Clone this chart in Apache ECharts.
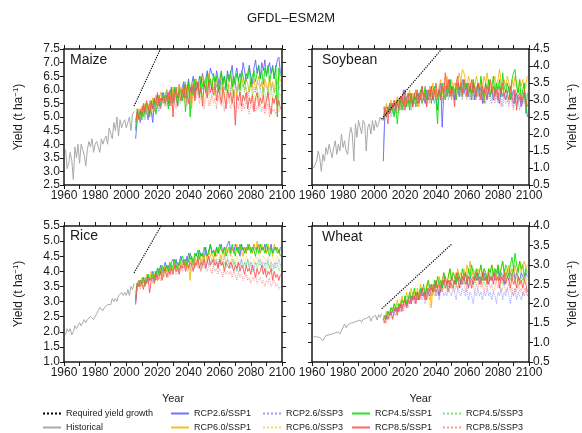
<!DOCTYPE html>
<html lang="en">
<head>
    <meta charset="UTF-8">
    <title>GFDL-ESM2M yield</title>
    <script src="https://cdn.jsdelivr.net/npm/echarts@6/dist/echarts.min.js"></script>
    <style type="text/css">
        html, body { margin: 0; padding: 0; background: #fff; }
        #main { width: 582px; height: 433px; }
    </style>
</head>
<body>
<div id="main"></div>
<script type="text/javascript">
    var crops = ['Maize', 'Soybean', 'Rice', 'Wheat'];
    var y_min = [2.5, 0.5, 1.0, 0.5];
    var y_max = [7.5, 4.5, 5.5, 4.0];
    var hist_start = 1961;
    var proj_start = 2006;
    var req_years = [2005, 2050];

    // required yield growth, value at req_years
    var maize_req = [5.4, 10.98];
    var soy_req = [2.44, 4.83];
    var rice_req = [3.95, 7.98];
    var wheat_req = [1.87, 3.53];

    // historical 1961-2005
    var maize_hist = [3.8,3.1,3.3,3.7,3.4,2.7,3.9,3.5,4.0,3.3, 4.0,3.8,3.6,3.2,3.8,4.1,3.9,4.2,3.7,4.0, 4.1,3.9,3.7,4.2,4.0,4.2,4.3,4.0,4.6,4.4, 4.2,4.8,4.5,5.0,4.3,4.9,4.6,4.8,4.9,4.6, 4.8,5.0,4.5,5.1,5.2];
    var soy_hist = [1.0,1.1,1.2,1.5,1.3,0.9,1.4,1.2,1.6,1.4, 1.7,1.5,1.3,1.6,1.8,1.4,1.7,1.5,2.0,1.6, 1.8,1.5,1.4,1.9,2.2,2.0,1.2,2.3,1.9,2.4, 2.2,2.0,2.4,2.3,1.5,2.2,2.3,2.0,2.4,2.1, 2.4,2.2,2.3,2.5,2.4];
    var rice_hist = [1.9,2.1,2.0,2.1,1.9,2.0,2.2,2.1,2.2,2.3, 2.2,2.2,2.4,2.3,2.4,2.4,2.5,2.5,2.4,2.5, 2.6,2.7,2.8,2.8,2.7,2.8,2.8,2.9,2.9,2.9, 3.1,3.0,3.1,3.0,3.2,3.2,3.3,3.2,3.3,3.2, 3.4,3.2,3.5,3.4,3.6];
    var wheat_hist = [1.15,1.12,1.15,1.10,1.13,1.08,1.05,1.10,1.18,1.15, 1.20,1.17,1.22,1.18,1.25,1.20,1.28,1.22,1.30,1.35, 1.48,1.38,1.45,1.40,1.50,1.45,1.52,1.48,1.55,1.50, 1.58,1.52,1.60,1.55,1.62,1.57,1.68,1.55,1.65,1.60, 1.70,1.58,1.72,1.65,1.75];

    // projections 2006-2099
    var maize_26_1 = [4.2,4.9,5.1,4.8,5.2,5.0,5.4,5.3,4.9,5.5, 5.2,4.8,5.6,5.4,5.8,5.5,5.3,5.9,5.6,5.7, 6.0,5.5,5.8,6.1,5.6,6.0,5.8,5.4,6.2,5.9, 6.1,6.3,5.7,6.0,6.4,5.9,6.2,6.5,5.8,6.3, 6.0,6.5,6.2,6.6,6.1,6.4,6.7,6.3,6.8,6.6, 6.5,6.2,6.7,6.4,6.0,6.6,6.3,6.5,6.1,6.7, 6.4,6.6,6.9,6.2,6.5,6.8,6.3,6.6,6.4,7.0, 6.7,6.3,6.6,6.9,6.5,6.2,6.8,7.1,6.6,6.9, 6.4,7.0,6.7,7.1,6.5,6.8,7.0,6.6,6.9,6.4, 6.8,7.1,7.2,6.6];
    var maize_26_3 = [4.6,4.8,5.0,4.9,5.1,5.3,4.9,5.2,5.4,5.1, 5.5,5.0,5.3,5.6,5.4,5.2,5.7,5.5,5.8,5.4, 5.7,5.9,5.5,5.8,6.0,5.6,5.9,5.7,6.1,5.8, 5.6,6.0,6.2,5.8,6.1,5.7,6.0,6.3,5.9,6.1, 6.2,5.8,6.3,6.0,6.4,6.1,5.9,6.5,6.2,6.3, 6.0,6.4,6.1,6.3,5.8,6.2,6.4,6.0,6.3,6.1, 6.2,5.9,6.4,6.1,6.3,6.0,6.2,5.8,6.4,6.1, 6.3,6.0,5.8,6.2,6.4,6.0,6.1,5.9,6.3,6.2, 6.0,6.3,5.9,6.2,6.1,5.8,6.3,6.0,6.2,5.9, 6.1,6.3,6.0,6.2];
    var maize_45_1 = [4.5,5.3,5.0,5.2,4.9,5.4,5.1,5.5,5.3,5.0, 5.6,5.3,5.7,5.1,5.5,5.8,5.4,5.6,5.9,5.5, 5.8,5.3,6.0,5.7,5.5,6.1,5.8,5.4,6.0,5.9, 5.6,6.2,5.2,6.0,6.3,5.0,6.1,5.8,6.4,6.0, 6.2,5.7,6.5,6.1,6.3,5.9,6.6,6.2,6.4,6.0, 6.6,6.3,6.5,5.9,6.4,6.7,6.2,6.5,6.0,6.6, 6.3,6.7,6.1,6.5,6.2,6.6,6.4,6.0,6.7,6.5, 6.2,6.6,6.4,6.8,6.1,6.5,6.7,6.3,6.6,6.9, 6.4,6.7,6.2,6.8,6.5,6.9,6.3,6.6,6.8,6.4, 6.9,5.0,6.8,6.5];
    var maize_45_3 = [4.7,5.0,5.2,4.9,5.3,5.1,5.0,5.4,5.2,5.5, 5.3,5.6,5.2,5.5,5.7,5.4,5.6,5.8,5.5,5.7, 5.9,5.6,5.8,6.0,5.7,5.5,5.9,6.1,5.8,5.6, 6.0,5.8,6.1,5.7,5.9,6.2,5.8,6.0,5.6,6.1, 5.9,6.2,6.0,5.7,6.3,6.0,6.1,5.8,6.2,6.0, 6.1,5.8,6.2,6.0,5.9,6.3,5.7,6.1,5.9,6.2, 5.8,6.1,6.0,5.7,6.2,5.9,6.1,5.8,6.0,6.2, 5.9,6.1,5.7,6.0,6.2,5.8,6.0,5.9,6.1,5.7, 6.0,5.8,6.1,5.9,5.6,6.0,5.8,6.1,5.7,5.9, 6.0,5.2,5.9,5.8];
    var maize_60_1 = [4.9,5.1,5.3,5.0,5.4,5.2,5.5,5.3,5.1,5.6, 5.4,5.7,5.5,5.8,5.3,5.6,5.9,5.7,5.5,5.8, 6.0,5.7,5.9,5.4,6.1,5.8,6.0,5.6,6.2,5.9, 6.1,5.8,6.3,5.7,6.2,6.0,5.3,6.3,6.1,6.4, 6.0,6.3,5.9,6.5,6.2,6.4,6.0,6.6,6.3,6.1, 6.5,6.2,6.4,6.0,6.3,6.5,6.1,6.4,6.2,5.9, 6.3,6.5,6.0,6.4,6.2,5.8,6.3,6.1,6.5,6.2, 6.0,6.4,6.2,5.9,6.3,6.1,6.4,6.0,6.2,6.5, 6.1,6.3,5.8,6.4,6.2,6.0,6.5,6.1,6.3,5.9, 6.4,6.2,6.6,6.3];
    var maize_60_3 = [5.0,4.9,5.2,5.1,5.3,5.0,5.4,5.2,5.5,5.3, 5.5,5.2,5.6,5.4,5.7,5.5,5.3,5.8,5.6,5.4, 5.8,5.6,5.9,5.5,5.7,6.0,5.6,5.8,5.5,5.9, 5.7,6.0,5.8,5.5,6.1,5.9,5.6,6.0,5.8,5.7, 6.0,5.8,6.1,5.7,5.5,6.0,5.8,6.2,5.4,5.9, 6.1,5.8,6.0,5.6,5.9,6.1,5.7,5.9,5.5,6.0, 5.8,5.6,6.0,5.7,5.9,5.5,5.8,6.0,5.6,5.8, 5.7,5.9,5.5,5.8,5.6,6.0,5.7,5.4,5.9,5.6, 5.8,5.5,5.9,5.7,5.4,5.8,5.6,5.9,5.5,5.7, 5.6,5.9,5.4,5.8];
    var maize_85_1 = [4.8,5.2,4.9,5.3,5.1,5.5,5.2,5.6,5.4,5.1, 5.6,5.3,5.7,5.5,5.9,5.4,5.7,5.6,5.8,5.5, 5.7,5.9,5.4,6.0,5.0,5.8,6.1,5.7,5.9,5.6, 6.0,5.7,6.2,5.8,5.5,6.1,5.9,6.2,5.6,6.0, 6.3,5.8,6.1,5.4,6.2,6.0,5.7,6.3,5.9,6.1, 5.8,6.2,5.6,6.0,5.9,5.5,6.1,5.8,5.3,6.0, 5.7,5.9,5.5,6.0,4.7,5.8,5.6,5.9,5.4,5.8, 5.6,5.9,5.3,5.7,5.5,5.8,5.2,5.7,5.9,5.4, 5.7,5.5,5.8,5.3,5.6,5.9,5.4,5.1,5.7,5.5, 5.8,5.4,5.6,5.3];
    var maize_85_3 = [4.9,5.0,5.2,4.8,5.3,5.1,5.4,5.2,5.0,5.5, 5.3,5.5,5.2,5.6,5.4,5.7,5.3,5.5,5.8,5.6, 5.4,5.7,5.9,5.5,5.8,5.6,5.3,5.9,5.7,5.5, 5.8,5.6,5.9,5.4,5.7,5.8,5.5,5.9,5.6,5.7, 5.9,5.5,5.8,5.6,5.3,5.7,5.9,5.4,5.6,5.8, 5.5,5.7,5.3,5.8,5.6,5.4,5.7,5.2,5.6,5.5, 5.7,5.3,5.6,5.4,5.0,5.5,5.3,5.6,5.2,5.5, 5.3,5.6,5.4,5.1,5.5,5.3,5.6,5.2,5.4,5.3, 5.5,5.2,5.4,5.1,5.3,5.5,5.0,5.4,5.2,5.3, 5.1,5.4,5.2,5.3];

    var soy_26_1 = [1.2,2.6,2.5,2.8,2.6,2.7,2.9,2.6,2.8,3.0, 2.7,2.9,3.1,2.8,3.3,3.0,2.9,3.2,3.0,2.8, 3.1,3.3,2.9,3.2,3.0,3.4,3.1,2.9,3.3,3.0, 3.2,3.4,3.0,3.3,3.1,2.7,3.3,3.5,2.2,3.2, 3.4,3.1,3.3,3.6,3.2,3.4,3.0,3.5,3.3,3.1, 3.4,3.6,3.2,3.5,3.3,3.1,3.4,3.2,3.5,3.0, 3.3,3.5,3.1,3.4,2.9,3.3,3.2,3.0,3.4,3.1, 3.3,3.0,3.2,3.4,3.1,2.9,3.3,3.1,3.2,3.0, 3.2,3.4,3.0,3.1,3.3,2.9,3.2,3.0,3.1,2.8, 3.0,3.2,2.9,2.5];
    var soy_26_3 = [1.6,2.5,2.7,2.6,2.8,2.5,2.7,2.9,2.6,2.8, 3.0,2.7,2.9,2.8,3.0,2.8,3.1,2.9,2.7,3.0, 2.9,3.1,2.8,3.0,3.2,2.9,3.1,3.0,2.8,3.2, 3.0,3.2,3.1,2.9,3.3,3.0,3.2,3.1,2.9,3.3, 3.1,3.3,3.0,3.2,3.4,3.1,3.3,3.0,3.2,3.4, 3.2,3.0,3.3,3.1,3.4,3.2,3.0,3.3,3.1,3.2, 3.0,3.3,3.1,3.2,3.0,3.3,2.9,3.1,3.2,3.0, 2.9,3.2,3.0,3.1,2.9,3.2,3.0,2.8,3.1,3.0, 3.1,2.9,3.2,3.0,2.8,3.1,2.9,3.0,2.7,3.0, 2.9,3.1,2.8,2.9];
    var soy_45_1 = [2.4,2.7,2.5,2.8,2.6,2.9,2.7,2.5,2.9,2.3, 2.8,3.0,2.7,2.9,3.1,2.8,3.0,2.7,3.2,2.9, 3.1,2.8,3.2,3.0,3.3,2.9,3.1,3.4,3.0,3.2, 3.3,2.9,3.2,3.4,3.0,2.3,3.3,3.1,3.5,3.2, 3.0,3.4,3.2,3.6,3.1,3.4,3.3,3.0,3.5,3.2, 3.4,3.1,3.6,3.3,3.5,3.2,3.4,3.0,3.6,3.3, 3.1,3.5,3.3,3.7,3.2,2.9,3.5,3.3,3.6,3.1, 3.4,3.7,3.2,3.5,3.3,3.6,3.1,3.8,3.4,3.2, 3.5,3.3,3.0,3.6,3.8,3.9,3.4,3.2,3.6,3.0, 3.3,3.5,2.6,3.2];
    var soy_45_3 = [2.5,2.6,2.8,2.5,2.7,2.9,2.6,2.8,2.7,2.9, 2.6,2.8,3.0,2.7,2.9,2.8,3.1,2.9,2.8,3.0, 2.9,3.1,2.8,3.0,3.2,2.9,3.0,3.2,2.9,3.1, 3.0,3.2,3.1,2.9,3.3,3.0,3.2,3.1,3.3,3.0, 3.2,3.4,3.1,3.3,3.0,3.4,3.2,3.1,3.3,3.4, 3.1,3.3,3.2,3.4,3.1,3.3,3.5,3.2,3.1,3.4, 3.2,3.1,3.4,3.2,3.3,3.0,3.3,3.2,3.4,3.1, 3.3,3.1,3.2,3.4,3.0,3.2,3.3,3.1,3.2,3.0, 3.2,3.3,3.1,3.0,3.3,3.1,3.2,2.9,3.1,3.2, 3.0,3.1,3.2,3.0];
    var soy_60_1 = [2.8,2.6,2.9,2.7,2.8,3.0,2.7,2.9,2.8,3.1, 2.9,3.1,2.8,3.0,3.2,2.9,3.1,3.3,3.0,3.2, 3.0,3.3,3.1,2.8,3.2,3.4,3.1,3.3,3.0,3.2, 3.4,3.1,3.5,3.2,3.3,3.0,3.4,3.6,3.2,3.5, 3.3,3.7,3.4,3.2,3.6,3.4,3.5,3.3,3.6,3.8, 3.5,3.9,3.8,3.6,3.4,3.7,3.5,3.3,3.6,3.4, 3.7,3.5,3.3,3.6,3.4,3.7,3.5,3.8,3.4,3.6, 3.3,3.5,3.7,3.4,3.6,3.9,3.5,3.3,3.6,3.4, 3.7,3.5,3.3,3.6,3.4,3.7,3.5,3.2,3.6,3.4, 3.6,3.3,3.5,3.7];
    var soy_60_3 = [2.7,2.5,2.8,2.6,2.9,2.7,2.8,2.6,3.0,2.8, 2.9,2.7,3.0,2.8,3.1,2.9,3.0,2.8,3.2,3.0, 3.1,2.9,3.2,3.0,3.1,3.3,3.0,3.2,3.1,2.9, 3.2,3.0,3.3,3.1,3.4,3.2,3.0,3.3,3.1,3.4, 3.2,3.4,3.3,3.1,3.5,3.3,3.2,3.4,3.6,3.3, 3.4,3.6,3.3,3.5,3.2,3.4,3.3,3.5,3.2,3.4, 3.3,3.5,3.2,3.4,3.6,3.3,3.4,3.2,3.5,3.3, 3.4,3.2,3.5,3.3,3.4,3.6,3.3,3.2,3.4,3.3, 3.5,3.3,3.2,3.4,3.3,3.5,3.2,3.4,3.3,3.1, 3.4,3.3,3.5,3.2];
    var soy_85_1 = [2.4,2.8,2.6,2.3,2.9,2.7,2.8,3.0,2.7,2.9, 2.8,3.1,2.9,3.3,2.7,3.0,3.2,2.9,3.1,2.8, 3.2,3.0,3.3,2.9,3.1,3.4,3.0,3.2,2.8,3.3, 3.1,3.4,3.0,3.2,3.5,3.1,3.3,3.0,3.4,3.2, 3.8,3.3,3.6,3.1,3.4,3.2,2.8,3.5,3.7,3.3, 3.5,3.2,3.6,3.4,3.1,3.5,3.3,3.6,3.2,3.4, 3.1,3.5,3.3,3.0,3.4,3.2,3.5,3.1,3.3,3.6, 3.2,3.4,3.1,3.3,3.0,3.4,3.2,3.5,3.1,3.3, 3.2,3.0,3.4,3.1,2.9,3.3,2.7,3.1,3.2,2.9, 3.1,3.3,3.0,2.8];
    var soy_85_3 = [2.5,2.6,2.8,2.5,2.7,2.6,2.9,2.7,2.8,2.6, 2.9,2.8,3.0,2.7,2.9,3.1,2.8,3.0,2.9,3.1, 3.0,2.8,3.1,3.0,3.2,2.9,3.1,3.0,3.2,3.1, 2.9,3.2,3.1,3.3,3.0,3.2,3.1,3.3,3.0,3.2, 3.3,3.1,3.2,3.4,3.0,3.3,3.2,3.1,3.4,3.2, 3.3,3.1,3.4,3.2,3.0,3.3,3.1,3.2,3.0,3.3, 3.1,3.2,3.0,3.3,3.1,2.9,3.2,3.0,3.1,3.2, 3.0,3.1,2.9,3.2,3.0,3.1,2.8,3.0,3.1,2.9, 3.0,2.8,3.1,2.9,2.7,3.0,2.8,2.9,3.0,2.8, 2.9,3.0,2.7,2.9];

    var rice_26_1 = [2.9,3.5,3.7,3.5,3.6,3.8,3.6,3.7,3.9,3.7, 3.8,4.0,3.8,3.9,4.1,3.9,4.2,4.0,4.1,4.3, 4.1,4.2,4.0,4.3,4.4,4.2,4.4,4.1,4.3,4.5, 4.3,4.4,4.2,4.5,4.3,4.6,4.4,4.2,4.5,4.6, 4.4,4.7,4.5,4.6,4.4,4.8,4.5,4.6,4.9,4.6, 4.7,4.5,4.8,4.6,4.7,4.9,4.6,4.8,4.7,4.9, 5.0,4.7,4.8,4.6,4.9,4.7,4.8,4.5,4.9,4.7, 4.8,4.6,4.9,4.7,4.8,4.6,4.9,4.7,4.8,4.9, 4.6,4.8,4.7,4.9,4.6,4.8,4.7,4.9,4.6,4.8, 4.7,4.8,4.6,4.8];
    var rice_26_3 = [3.0,3.5,3.6,3.5,3.7,3.6,3.8,3.7,3.6,3.8, 3.9,3.7,3.9,4.0,3.8,4.0,4.1,3.9,4.1,4.0, 4.2,4.0,4.1,4.2,4.0,4.3,4.1,4.2,4.3,4.1, 4.2,4.4,4.2,4.3,4.1,4.4,4.2,4.3,4.1,4.3, 4.4,4.2,4.0,4.4,4.3,4.1,4.4,4.2,4.3,4.4, 4.2,4.4,4.3,4.1,4.4,4.2,4.3,4.5,4.2,4.4, 4.3,4.1,4.4,4.2,4.3,4.0,4.3,4.2,4.4,4.1, 4.3,4.2,4.4,4.1,4.3,4.2,4.0,4.3,4.2,4.4, 4.2,4.3,4.1,4.3,4.2,4.4,4.1,4.3,4.2,4.1, 4.3,4.2,4.4,4.2];
    var rice_45_1 = [3.1,3.6,3.5,3.7,3.6,3.8,3.5,3.7,3.9,3.7, 3.8,3.9,3.7,4.0,3.8,4.1,3.9,4.2,4.0,4.1, 4.2,4.0,4.3,4.1,4.2,4.4,4.1,4.3,4.2,4.4, 4.5,4.3,4.4,4.2,4.6,4.4,4.5,4.3,4.6,4.5, 4.7,4.4,4.6,4.5,4.8,4.6,4.5,4.7,4.9,4.6, 4.7,4.5,4.8,4.6,4.9,4.7,4.6,4.8,4.5,4.7, 4.8,4.6,4.9,4.7,4.5,4.8,4.6,4.9,4.7,4.8, 4.6,4.8,4.7,4.9,4.6,4.8,4.7,4.5,4.8,4.6, 4.9,4.7,4.8,4.6,4.9,4.7,4.5,4.8,4.6,4.7, 4.8,4.6,4.7,4.5];
    var rice_45_3 = [3.2,3.5,3.7,3.6,3.7,3.6,3.8,3.7,3.9,3.8, 3.7,3.9,4.0,3.8,4.0,3.9,4.1,4.0,3.9,4.1, 4.0,4.2,4.1,4.0,4.2,4.1,4.3,4.2,4.0,4.3, 4.2,4.1,4.3,4.2,4.4,4.1,4.3,4.2,4.4,4.3, 4.2,4.4,4.3,4.1,4.4,4.2,4.3,4.5,4.2,4.4, 4.3,4.2,4.4,4.1,4.3,4.4,4.2,4.3,4.1,4.4, 4.2,4.3,4.1,4.4,4.2,4.0,4.3,4.2,4.4,4.1, 4.3,4.2,4.4,4.1,4.3,4.0,4.2,4.3,4.1,4.2, 4.4,4.1,4.3,4.2,4.0,4.3,4.1,4.2,4.0,4.3, 4.1,4.2,4.0,4.2];
    var rice_60_1 = [3.3,3.6,3.7,3.5,3.8,3.7,3.6,3.9,3.7,3.8, 4.0,3.8,3.9,3.7,4.0,3.9,4.1,3.8,4.0,4.2, 4.0,4.1,3.9,4.2,4.0,4.3,4.1,4.2,4.0,4.3, 4.2,4.4,4.1,4.3,4.2,3.7,4.4,4.2,4.5,4.3, 4.4,4.6,4.3,4.5,4.4,4.6,4.3,4.7,4.5,4.6, 4.4,4.7,4.5,4.8,4.6,4.4,4.7,4.5,4.8,4.6, 4.7,4.5,4.8,4.6,4.7,4.9,4.6,4.8,4.7,4.5, 4.8,4.6,4.9,4.7,4.8,4.6,4.9,4.7,5.0,4.8, 4.6,4.9,4.7,4.8,4.6,4.9,4.7,4.8,4.5,4.9, 4.7,4.8,4.6,4.7];
    var rice_60_3 = [3.2,3.5,3.6,3.7,3.6,3.8,3.7,3.6,3.8,3.9, 3.7,3.9,3.8,4.0,3.8,4.0,3.9,4.1,4.0,3.9, 4.1,4.0,4.2,4.0,4.1,4.2,4.0,4.2,4.3,4.1, 4.2,4.3,4.1,4.3,4.2,4.4,4.2,4.3,4.1,4.4, 4.3,4.2,4.4,4.3,4.5,4.3,4.4,4.2,4.5,4.4, 4.3,4.5,4.4,4.2,4.5,4.3,4.4,4.6,4.3,4.5, 4.4,4.3,4.5,4.4,4.2,4.5,4.3,4.4,4.6,4.4, 4.3,4.5,4.4,4.2,4.5,4.4,4.3,4.5,4.4,4.6, 4.4,4.3,4.5,4.4,4.3,4.5,4.4,4.2,4.5,4.4, 4.3,4.5,4.4,4.3];
    var rice_85_1 = [3.0,3.6,3.5,3.7,3.6,3.4,3.7,3.6,3.8,3.3, 3.7,3.8,3.6,3.9,3.7,3.8,4.0,3.7,3.9,4.1, 3.8,4.0,3.9,4.1,3.9,4.2,4.0,4.1,3.9,4.2, 4.1,4.3,4.0,4.2,4.1,4.3,4.2,4.0,4.3,4.2, 4.4,4.1,4.3,4.2,4.4,4.1,4.3,4.5,4.2,4.3, 4.4,4.2,4.3,4.1,4.4,4.2,4.3,4.0,4.3,4.2, 4.1,4.3,4.2,4.0,4.2,4.1,4.3,4.0,4.2,4.1, 3.9,4.2,4.0,4.1,3.9,4.2,4.0,3.8,4.1,3.9, 4.0,4.2,3.9,4.1,3.8,4.0,3.9,4.1,3.7,4.0, 3.8,3.9,3.7,3.9];
    var rice_85_3 = [3.1,3.5,3.6,3.4,3.7,3.5,3.6,3.8,3.6,3.7, 3.8,3.6,3.9,3.7,3.9,3.8,3.7,4.0,3.8,3.9, 4.0,3.8,4.1,3.9,4.0,4.1,3.9,4.1,4.0,4.2, 4.0,4.1,4.2,4.0,4.2,4.1,4.0,4.2,4.1,4.3, 4.1,4.2,4.0,4.3,4.1,4.2,4.0,4.2,4.1,3.9, 4.2,4.0,4.1,3.9,4.1,4.0,3.8,4.1,3.9,4.0, 3.9,4.0,3.8,4.0,3.9,3.7,4.0,3.8,3.9,3.7, 3.8,3.9,3.7,3.8,3.6,3.8,3.7,3.9,3.6,3.7, 3.8,3.6,3.7,3.5,3.7,3.6,3.8,3.5,3.6,3.7, 3.5,3.6,3.4,3.5];

    var wheat_26_1 = [1.6,1.7,1.6,1.8,1.7,1.7,1.8,1.9,1.8,1.9, 1.8,2.0,1.9,2.0,2.1,1.9,2.1,2.2,2.0,2.2, 2.1,2.3,2.1,2.2,2.4,2.2,2.3,2.1,2.4,2.3, 2.2,2.4,2.3,2.5,2.3,2.4,2.2,2.5,2.4,2.6, 2.4,2.5,2.3,2.6,2.5,2.4,2.6,2.5,2.7,2.4, 2.6,2.5,2.7,2.5,2.6,2.4,2.7,2.6,2.5,2.7, 2.6,2.8,2.5,2.7,2.6,2.8,2.6,2.7,2.5,2.7, 2.6,2.8,2.6,2.7,2.9,2.6,2.8,2.7,2.5,2.8, 2.7,2.6,2.8,2.7,2.9,2.6,2.8,2.7,2.6,2.8, 2.7,2.6,2.8,2.7];
    var wheat_26_3 = [1.6,1.6,1.7,1.6,1.8,1.7,1.8,1.7,1.9,1.8, 1.9,1.8,2.0,1.9,2.0,2.1,1.9,2.1,2.0,2.2, 2.1,2.0,2.2,2.1,2.3,2.1,2.2,2.0,2.2,2.3, 2.1,2.3,2.2,2.4,2.2,2.3,2.1,2.3,2.4,2.2, 2.3,2.2,2.4,2.3,2.2,2.4,2.3,2.1,2.4,2.3, 2.2,2.4,2.3,2.2,2.4,2.1,2.3,2.2,2.0,2.3, 2.2,2.4,2.2,2.3,2.1,2.3,2.2,2.4,2.2,2.3, 2.1,2.3,2.2,2.0,2.3,2.2,2.4,2.1,2.3,2.2, 2.4,2.2,2.0,2.3,2.2,2.4,2.1,2.3,2.2,2.1, 2.3,2.2,2.4,2.2];
    var wheat_45_1 = [1.6,1.6,1.7,1.8,1.7,1.9,1.8,2.0,1.9,1.8, 2.0,1.9,2.1,2.0,2.2,2.0,2.1,2.3,2.1,2.2, 2.4,2.2,2.3,2.1,2.4,2.3,2.5,2.2,2.4,2.6, 2.4,2.5,2.3,2.6,2.4,2.7,2.5,2.6,2.4,2.8, 2.6,2.5,2.7,2.9,2.6,2.8,2.7,2.5,2.8,2.7, 2.6,2.9,2.7,2.8,2.6,2.9,2.7,3.0,2.8,2.7, 2.9,2.7,2.8,3.0,2.7,2.9,2.8,2.6,2.9,2.8, 3.0,2.7,2.9,2.8,3.0,2.7,2.9,3.1,2.8,3.0, 2.9,2.7,3.0,3.2,2.9,3.3,3.0,2.8,3.1,2.9, 3.0,2.7,2.9,2.8];
    var wheat_45_3 = [1.6,1.7,1.6,1.8,1.7,1.8,1.9,1.8,1.9,2.0, 1.9,2.0,2.1,2.0,2.1,2.2,2.0,2.2,2.1,2.3, 2.2,2.1,2.3,2.2,2.4,2.3,2.2,2.4,2.3,2.5, 2.3,2.4,2.5,2.3,2.5,2.4,2.6,2.4,2.5,2.6, 2.5,2.4,2.6,2.5,2.7,2.5,2.6,2.4,2.7,2.6, 2.5,2.7,2.6,2.5,2.7,2.6,2.8,2.6,2.7,2.5, 2.7,2.6,2.8,2.6,2.7,2.5,2.8,2.7,2.6,2.8, 2.6,2.7,2.9,2.7,2.6,2.8,2.7,2.5,2.8,2.6, 2.7,2.8,2.6,2.9,2.7,2.6,2.8,2.7,2.5,2.7, 2.6,2.8,2.7,2.6];
    var wheat_60_1 = [1.7,1.6,1.8,1.7,1.8,1.9,1.8,2.0,1.9,2.1, 1.9,2.0,2.2,2.0,2.1,2.3,2.1,2.2,2.4,2.2, 2.3,2.1,2.4,2.2,2.5,2.3,2.4,2.2,2.5,2.6, 2.4,1.9,2.5,2.3,2.6,2.4,2.7,2.5,2.6,2.8, 2.6,2.5,2.7,2.9,2.6,2.8,2.7,2.6,2.9,2.7, 2.8,2.6,2.9,2.7,3.0,2.8,3.1,2.7,2.9,2.8, 2.7,2.9,2.8,3.0,2.7,2.9,2.8,2.6,2.9,2.8, 3.0,2.8,2.9,2.7,3.0,2.8,2.9,3.1,2.8,2.9, 2.7,3.0,2.8,2.9,2.7,3.0,2.8,2.9,3.1,2.8, 3.0,3.1,2.9,3.0];
    var wheat_60_3 = [1.6,1.7,1.8,1.7,1.8,1.7,1.9,1.8,2.0,1.9, 2.0,1.9,2.1,2.0,2.2,2.1,2.0,2.2,2.1,2.3, 2.2,2.4,2.1,2.3,2.2,2.4,2.3,2.1,2.4,2.2, 1.9,2.3,2.4,2.2,2.5,2.3,2.4,2.5,2.3,2.6, 2.4,2.5,2.3,2.6,2.4,2.5,2.7,2.5,2.4,2.6, 2.5,2.7,2.5,2.6,2.4,2.7,2.5,2.6,2.8,2.6, 2.5,2.7,2.6,2.8,2.5,2.7,2.6,2.5,2.7,2.6, 2.8,2.6,2.5,2.7,2.6,2.8,2.5,2.7,2.6,2.8, 2.6,2.5,2.7,2.6,2.8,2.5,2.7,2.6,2.4,2.7, 2.6,2.8,2.5,2.7];
    var wheat_85_1 = [1.6,1.5,1.7,1.6,1.7,1.8,1.6,1.8,1.9,1.7, 1.9,2.0,1.8,2.0,2.1,1.9,2.1,2.0,2.2,2.1, 2.2,2.0,2.3,2.1,2.2,2.4,2.2,2.3,2.1,2.4, 2.3,2.5,2.3,2.4,2.6,2.4,2.5,2.3,2.6,2.5, 2.7,2.5,2.6,2.4,2.7,2.6,2.5,2.8,2.6,2.7, 2.5,2.7,2.6,2.8,2.5,2.7,2.6,2.4,2.7,2.6, 2.8,2.6,2.7,2.5,2.8,2.6,2.7,2.5,2.8,2.6, 2.7,2.5,2.8,2.6,2.7,2.4,2.7,2.6,2.8,2.5, 2.7,2.6,2.4,2.7,2.5,2.6,2.4,2.7,2.5,2.6, 2.4,2.6,2.5,2.3];
    var wheat_85_3 = [1.5,1.6,1.5,1.7,1.6,1.7,1.6,1.8,1.7,1.9, 1.8,1.9,2.0,1.8,2.0,1.9,2.1,2.0,2.1,2.2, 2.0,2.2,2.1,2.3,2.1,2.2,2.3,2.1,2.3,2.2, 2.4,2.2,2.3,2.4,2.2,2.4,2.3,2.5,2.3,2.4, 2.5,2.3,2.4,2.6,2.4,2.5,2.3,2.5,2.4,2.6, 2.4,2.6,2.5,2.3,2.5,2.4,2.6,2.4,2.5,2.3, 2.5,2.4,2.6,2.4,2.5,2.3,2.5,2.4,2.6,2.4, 2.5,2.3,2.4,2.6,2.4,2.5,2.3,2.4,2.5,2.3, 2.4,2.5,2.3,2.4,2.2,2.4,2.3,2.5,2.3,2.4, 2.2,2.4,2.3,2.2];

    // drawing order of scenarios
    var scen_names = ['RCP2.6/SSP1', 'RCP2.6/SSP3', 'RCP6.0/SSP1', 'RCP6.0/SSP3', 'RCP4.5/SSP1', 'RCP4.5/SSP3', 'RCP8.5/SSP1', 'RCP8.5/SSP3'];
    var scen_colors = ['#5a5aff', '#7a7aff', '#f2b400', '#f5c540', '#00dd00', '#44e044', '#ff4a4a', '#ff7070'];

    var proj = [
        [maize_26_1, maize_26_3, maize_60_1, maize_60_3, maize_45_1, maize_45_3, maize_85_1, maize_85_3],
        [soy_26_1, soy_26_3, soy_60_1, soy_60_3, soy_45_1, soy_45_3, soy_85_1, soy_85_3],
        [rice_26_1, rice_26_3, rice_60_1, rice_60_3, rice_45_1, rice_45_3, rice_85_1, rice_85_3],
        [wheat_26_1, wheat_26_3, wheat_60_1, wheat_60_3, wheat_45_1, wheat_45_3, wheat_85_1, wheat_85_3]
    ];
    var hist = [maize_hist, soy_hist, rice_hist, wheat_hist];
    var req = [maize_req, soy_req, rice_req, wheat_req];

    var font = "'Liberation Sans', Arial, Helvetica, sans-serif";
    var ink = '#1a1a1a';

    function pairs(start, arr) {
        return arr.map(function (v, i) { return [start + i, v]; });
    }

    var grids = [
        {left: 64, top: 49, width: 218, height: 136},
        {left: 312, top: 49, width: 217, height: 136},
        {left: 64, top: 226, width: 218, height: 136},
        {left: 312, top: 226, width: 217, height: 136}
    ];

    var xAxes = [], yAxes = [], series = [];
    for (var c = 0; c < 4; c++) {
        var bottomRow = c >= 2;
        var rightCol = c % 2 === 1;
        var axLine = {show: true, onZero: false, lineStyle: {color: ink, width: 1.5}};
        var tick = {show: true, inside: false, length: 4, lineStyle: {color: ink, width: 1}};
        xAxes.push({
            type: 'value', gridIndex: c, position: 'bottom', min: 1960, max: 2100, interval: 10,
            axisLine: axLine, axisTick: tick, splitLine: {show: false},
            axisLabel: {color: ink, fontSize: 12, margin: 5, fontFamily: font,
                formatter: function (v) { return v % 20 === 0 ? String(v) : ''; }},
            name: bottomRow ? 'Year' : '', nameLocation: 'middle', nameGap: 31,
            nameTextStyle: {color: ink, fontSize: 11, fontFamily: font}
        });
        xAxes.push({
            type: 'value', gridIndex: c, position: 'top', min: 1960, max: 2100, interval: 10,
            axisLine: axLine, axisTick: tick, splitLine: {show: false}, axisLabel: {show: false}
        });
        var yName = 'Yield (t ha{sup|\u22121})';
        yAxes.push({
            type: 'value', gridIndex: c, position: rightCol ? 'right' : 'left',
            min: y_min[c], max: y_max[c], interval: 0.5,
            axisLine: axLine, axisTick: tick, splitLine: {show: false},
            axisLabel: {color: ink, fontSize: 12, margin: 4, fontFamily: font,
                formatter: function (v) { return v.toFixed(1); }},
            name: yName, nameLocation: 'middle', nameRotate: 90, nameGap: rightCol ? 37 : 38,
            nameTextStyle: {color: ink, fontSize: 12, fontFamily: font,
                rich: {sup: {fontSize: 8, verticalAlign: 'top', padding: [0, 0, 6, 0], color: ink, fontFamily: font}}}
        });
        yAxes.push({
            type: 'value', gridIndex: c, position: rightCol ? 'left' : 'right',
            min: y_min[c], max: y_max[c], interval: 0.5,
            axisLine: axLine, axisTick: tick, splitLine: {show: false}, axisLabel: {show: false}
        });

        series.push({
            name: 'Historical', type: 'line', xAxisIndex: 2 * c, yAxisIndex: 2 * c,
            data: pairs(hist_start, hist[c]), symbol: 'none', silent: true,
            lineStyle: {color: '#aaaaaa', width: 1}, itemStyle: {color: '#aaaaaa'}
        });
        for (var s = 0; s < scen_names.length; s++) {
            series.push({
                name: scen_names[s], type: 'line', xAxisIndex: 2 * c, yAxisIndex: 2 * c,
                data: pairs(proj_start, proj[c][s]), symbol: 'none', silent: true,
                lineStyle: {color: scen_colors[s], width: 1, type: s % 2 ? 'dotted' : 'solid', opacity: s % 2 ? 0.75 : 0.85},
                itemStyle: {color: scen_colors[s]}
            });
        }
        series.push({
            name: 'Required yield growth', type: 'line', xAxisIndex: 2 * c, yAxisIndex: 2 * c,
            data: [[req_years[0], req[c][0]], [req_years[1], req[c][1]]], symbol: 'none', silent: true,
            clip: true, z: 5,
            lineStyle: {color: '#000', width: 1.2, type: 'dotted'}, itemStyle: {color: '#000'}
        });
    }

    var legend_cols = [
        ['Required yield growth', 'Historical'],
        ['RCP2.6/SSP1', 'RCP6.0/SSP1'],
        ['RCP2.6/SSP3', 'RCP6.0/SSP3'],
        ['RCP4.5/SSP1', 'RCP8.5/SSP1'],
        ['RCP4.5/SSP3', 'RCP8.5/SSP3']
    ];
    var legend_x = [42, 170, 262, 351, 442];
    var legends = legend_cols.map(function (names, i) {
        return {
            data: names, orient: 'vertical', left: legend_x[i], top: 409, padding: 0,
            itemWidth: 18, itemHeight: 10, itemGap: 5, selectedMode: false,
            itemStyle: {color: 'rgba(0,0,0,0)', borderColor: 'rgba(0,0,0,0)', borderWidth: 0, opacity: 0},
            textStyle: {color: ink, fontSize: 9, fontFamily: font}
        };
    });

    var panel_pos = [[70, 53], [322, 53], [70, 229], [322, 230]];
    var graphics = crops.map(function (name, i) {
        return {type: 'text', left: panel_pos[i][0], top: panel_pos[i][1],
            style: {text: name, fontSize: 14, fill: ink, fontFamily: font}};
    });

    var chart = echarts.init(document.getElementById('main'));
    chart.setOption({
        animation: false,
        backgroundColor: '#fff',
        title: {text: 'GFDL\u2013ESM2M', left: 'center', top: 7,
            textStyle: {color: ink, fontSize: 13, fontWeight: 'normal', fontFamily: font}},
        grid: grids,
        xAxis: xAxes,
        yAxis: yAxes,
        legend: legends,
        graphic: graphics,
        series: series
    });
</script>
</body>
</html>
